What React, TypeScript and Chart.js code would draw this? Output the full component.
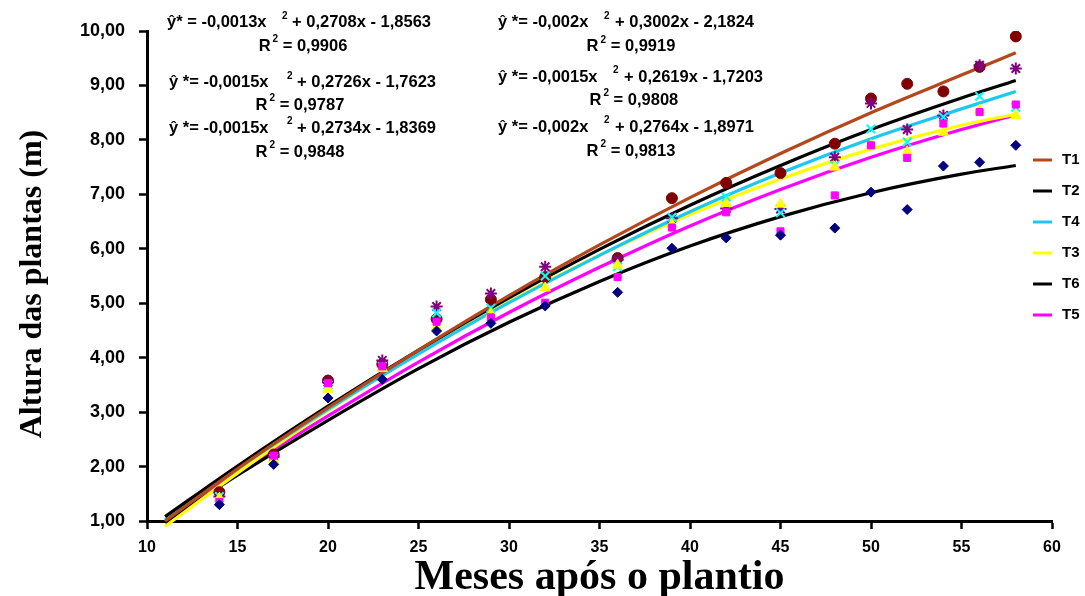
import React, { useEffect, useRef } from 'react';
import { Chart, registerables } from 'chart.js';

Chart.register(...registerables);

// ---------- data ----------
const months = [14, 17, 20, 23, 26, 29, 32, 36, 39, 42, 45, 48, 50, 52, 54, 56, 58];
const obsCircle = [1.53, 2.22, 3.58, 3.88, 4.71, 5.07, 5.48, 5.83, 6.93, 7.21, 7.39, 7.93, 8.76, 9.03, 8.89, 9.34, 9.90];
const obsStar = [1.45, 2.18, 3.55, 3.95, 4.94, 5.18, 5.67, 5.80, 6.56, 6.74, 6.73, 7.68, 8.67, 8.19, 8.45, 9.37, 9.31];
const obsCross = [1.45, 2.15, 3.50, 3.84, 4.82, 4.91, 5.50, 5.67, 6.58, 6.95, 6.66, 7.53, 8.20, 7.96, 8.42, 8.80, 8.60];
const obsTriangle = [1.42, 2.12, 3.42, 3.80, 4.57, 4.80, 5.28, 5.70, 6.45, 6.83, 6.82, 7.50, 7.90, 7.78, 8.14, 8.55, 8.45];
const obsSquare = [1.35, 2.20, 3.53, 3.84, 4.66, 4.74, 5.01, 5.48, 6.39, 6.67, 6.32, 6.98, 7.90, 7.67, 8.30, 8.51, 8.65];
const obsDiamond = [1.30, 2.04, 3.26, 3.60, 4.49, 4.63, 4.95, 5.20, 6.01, 6.20, 6.25, 6.38, 7.04, 6.72, 7.52, 7.59, 7.90];

const fitX = [11, 15, 20, 25, 30, 35, 40, 45, 50, 55, 58];
const fitT1 = [1.00, 1.96, 3.08, 4.14, 5.14, 6.07, 6.94, 7.75, 8.50, 9.19, 9.60];
const fitT2 = [1.08, 2.01, 3.11, 4.14, 5.10, 5.99, 6.80, 7.53, 8.19, 8.77, 9.09];
const fitT4 = [1.02, 1.96, 3.05, 4.07, 5.01, 5.88, 6.68, 7.39, 8.02, 8.57, 8.89];
const fitT3 = [0.90, 1.88, 3.03, 4.08, 5.03, 5.88, 6.63, 7.28, 7.83, 8.27, 8.47];
const fitT6 = [0.97, 1.84, 2.85, 3.80, 4.65, 5.40, 6.05, 6.59, 7.03, 7.37, 7.53];
const fitT5 = [0.98, 1.89, 2.93, 3.92, 4.83, 5.66, 6.42, 7.09, 7.68, 8.19, 8.46];

const legendLabels = ['T1', 'T2', 'T4', 'T3', 'T6', 'T5'];

const eqLhs = ['ŷ* = -0,0013x', 'ŷ *= -0,0015x', 'ŷ *= -0,0015x', 'ŷ *= -0,002x', 'ŷ *= -0,0015x', 'ŷ *= -0,002x'];
const eqRhs = ['+ 0,2708x - 1,8563', '+ 0,2726x - 1,7623', '+ 0,2734x - 1,8369', '+ 0,3002x - 2,1824', '+ 0,2619x - 1,7203', '+ 0,2764x - 1,8971'];
const eqR2 = ['0,9906', '0,9787', '0,9848', '0,9919', '0,9808', '0,9813'];
// anchor positions of the equation texts in data units (month, height)
const eqStartX = [11.105, 11.215, 11.215, 29.392, 29.392, 29.392];
const eqSupX = [17.459, 17.735, 17.735, 35.249, 35.746, 35.249];
const eqRhsX = [18.011, 18.287, 18.287, 35.856, 36.354, 35.856];
const eqY = [10.148, 9.046, 8.219, 10.148, 9.147, 8.237];
const r2CenterX = [18.62, 18.45, 18.45, 36.74, 36.9, 36.74];
const r2Y = [9.725, 8.641, 7.778, 9.707, 8.733, 7.787];

// ---------- styles ----------
const C_T1 = '#B4471C';
const C_BLACK = '#000000';
const C_CYAN = '#1CC8F2';
const C_YELLOW = '#FFFF00';
const C_MAGENTA = '#FF00FF';

const SANS = '"Liberation Sans", Arial, sans-serif';
const SERIF = '"Liberation Serif", "Times New Roman", serif';

const pts = (xs: number[], ys: number[]) => xs.map((x, i) => ({ x, y: ys[i] }));

const fitLine = (label: string, ys: number[], color: string, width = 3.2) => ({
  type: 'scatter' as const,
  label,
  data: pts(fitX, ys),
  showLine: true,
  borderColor: color,
  backgroundColor: color,
  borderWidth: width,
  pointRadius: 0,
  pointHoverRadius: 0,
  cubicInterpolationMode: 'monotone' as const,
  fill: false,
  order: 2,
  clip: { left: 5, top: 5, right: 5, bottom: 8 },
});

const obsSet = (label: string, ys: number[], style: string, fillC: string, borderC: string, radius: number, bw: number) => ({
  type: 'scatter' as const,
  label,
  data: pts(months, ys),
  pointStyle: style,
  backgroundColor: fillC,
  borderColor: borderC,
  borderWidth: bw,
  pointRadius: radius,
  showLine: false,
  order: 1,
});

const annotationPlugin = {
  id: 'eqAnnotations',
  afterDraw(chart: any) {
    const { ctx, scales } = chart;
    const xs = scales.x;
    const ys = scales.y;
    ctx.save();
    ctx.fillStyle = '#000';
    ctx.textBaseline = 'middle';
    ctx.textAlign = 'left';
    const main = `bold 16.5px ${SANS}`;
    const sup = `bold 10px ${SANS}`;
    for (let i = 0; i < eqLhs.length; i++) {
      const y = ys.getPixelForValue(eqY[i]);
      ctx.font = main;
      ctx.fillText(eqLhs[i], xs.getPixelForValue(eqStartX[i]), y);
      ctx.font = sup;
      ctx.fillText('2', xs.getPixelForValue(eqSupX[i]), y - 7);
      ctx.font = main;
      ctx.fillText(eqRhs[i], xs.getPixelForValue(eqRhsX[i]), y);

      // R² line
      const ry = ys.getPixelForValue(r2Y[i]);
      ctx.font = main;
      const wR = ctx.measureText('R').width;
      const rest = ' = ' + eqR2[i];
      const wRest = ctx.measureText(rest).width;
      ctx.font = sup;
      const w2 = ctx.measureText('2').width;
      const total = wR + 2 + w2 + wRest;
      let rx = xs.getPixelForValue(r2CenterX[i]) - total / 2;
      ctx.font = main;
      ctx.fillText('R', rx, ry);
      rx += wR + 2;
      ctx.font = sup;
      ctx.fillText('2', rx, ry - 7);
      rx += w2;
      ctx.font = main;
      ctx.fillText(rest, rx, ry);
    }
    ctx.restore();
  },
};

const legendPlugin = {
  id: 'sideLegend',
  afterDraw(chart: any) {
    const { ctx, chartArea } = chart;
    ctx.save();
    ctx.font = `bold 15px ${SANS}`;
    ctx.textBaseline = 'middle';
    ctx.textAlign = 'left';
    legendLabels.forEach((lab, i) => {
      const ds = chart.data.datasets.find((d: any) => d.label === lab);
      const y = chartArea.top + 129 + i * 31;
      ctx.strokeStyle = ds ? ds.borderColor : '#000';
      ctx.lineWidth = 3;
      ctx.beginPath();
      ctx.moveTo(chartArea.right - 19, y);
      ctx.lineTo(chartArea.right, y);
      ctx.stroke();
      ctx.fillStyle = '#000';
      ctx.fillText(lab, chartArea.right + 10, y);
    });
    ctx.restore();
  },
};

export default function App() {
  const canvasRef = useRef<HTMLCanvasElement | null>(null);

  useEffect(() => {
    document.body.style.margin = '0';
    const canvas = canvasRef.current;
    if (!canvas) return;

    const datasets: any[] = [
      obsSet('obs T6', obsDiamond, 'rectRot', '#000080', '#000080', 5, 1),
      obsSet('obs T5', obsSquare, 'rect', C_MAGENTA, C_MAGENTA, 5, 1),
      obsSet('obs T3', obsTriangle, 'triangle', C_YELLOW, C_YELLOW, 6, 1),
      obsSet('obs T4', obsCross, 'crossRot', '#00FFFF', '#00FFFF', 6, 2),
      obsSet('obs T2', obsStar, 'star', '#800080', '#800080', 6, 2),
      obsSet('obs T1', obsCircle, 'circle', '#800000', '#800000', 5.5, 1),
      fitLine('T1', fitT1, C_T1),
      fitLine('T2', fitT2, C_BLACK),
      fitLine('T4', fitT4, C_CYAN),
      fitLine('T3', fitT3, C_YELLOW),
      fitLine('T6', fitT6, C_BLACK),
      fitLine('T5', fitT5, C_MAGENTA),
    ];

    const chart = new Chart(canvas, {
      type: 'scatter',
      data: { datasets },
      plugins: [annotationPlugin, legendPlugin],
      options: {
        animation: false,
        responsive: false,
        maintainAspectRatio: false,
        layout: { padding: { top: 31, right: 33, left: 0, bottom: 0 } },
        plugins: {
          legend: { display: false },
          tooltip: { enabled: false },
          title: { display: false },
        },
        scales: {
          x: {
            type: 'linear',
            min: 10,
            max: 60,
            ticks: {
              stepSize: 5,
              color: '#000',
              padding: 9,
              font: { family: SANS, weight: 'bold', size: 16 },
            },
            grid: {
              display: true,
              drawOnChartArea: false,
              drawTicks: true,
              tickLength: 8,
              tickColor: '#000',
              tickWidth: 2.5,
              color: '#000',
            },
            border: { display: true, color: '#000', width: 3 },
            title: {
              display: true,
              text: 'Meses após o plantio',
              color: '#000',
              padding: 0,
              font: { family: SERIF, weight: 'bold', size: 42, lineHeight: 0.86 },
            },
            afterFit: (s: any) => {
              s.height = 75;
            },
          },
          y: {
            type: 'linear',
            min: 1,
            max: 10,
            ticks: {
              stepSize: 1,
              color: '#000',
              padding: 14,
              font: { family: SANS, weight: 'bold', size: 18 },
              callback: (v: any) => Number(v).toFixed(2).replace('.', ','),
            },
            grid: {
              display: true,
              drawOnChartArea: false,
              drawTicks: true,
              tickLength: 8,
              tickColor: '#000',
              tickWidth: 2.5,
              color: '#000',
            },
            border: { display: true, color: '#000', width: 3 },
            title: {
              display: true,
              text: 'Altura das plantas (m)  ',
              color: '#000',
              padding: { top: 17, bottom: 0 },
              font: { family: SERIF, weight: 'bold', size: 32, lineHeight: 1 },
            },
            afterFit: (s: any) => {
              s.width = 147;
            },
          },
        },
      } as any,
    });

    return () => {
      chart.destroy();
    };
  }, []);

  return (
    <div style={{ width: 1085, height: 596, background: '#fff' }}>
      <canvas ref={canvasRef} width={1085} height={596} style={{ display: 'block' }} />
    </div>
  );
}
